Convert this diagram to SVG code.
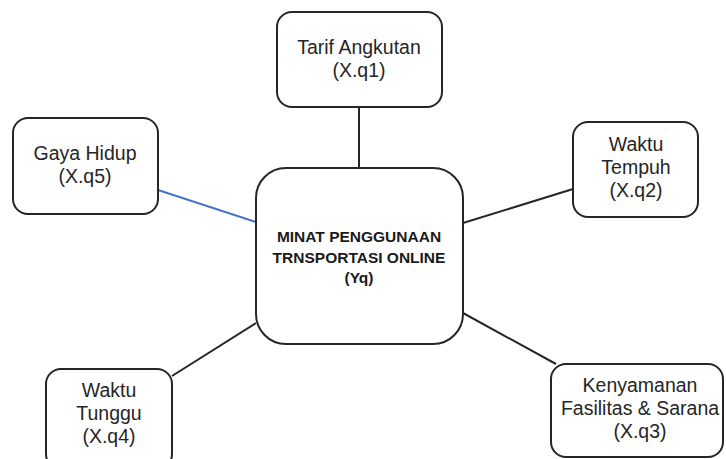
<svg xmlns="http://www.w3.org/2000/svg" width="726" height="459" viewBox="0 0 726 459">
<style>
.box{fill:#fff;stroke:#262626;stroke-width:2}
.lbl{font-family:"Liberation Sans",Arial,sans-serif;font-size:19.5px;fill:#262626;text-anchor:middle}
.main{font-family:"Liberation Sans",Arial,sans-serif;font-size:15.5px;font-weight:bold;fill:#1a1a1a;text-anchor:middle}
.con{stroke:#262626;stroke-width:2;fill:none}
.blue{stroke:#4472C4;stroke-width:2;fill:none}
</style>
<rect width="726" height="459" fill="#fff"/>
<g id="connectors">
<line class="con" x1="359" y1="107" x2="359" y2="168"/>
<line class="blue" x1="158" y1="190" x2="256" y2="222"/>
<line class="con" x1="573" y1="189" x2="463" y2="223"/>
<line class="con" x1="172" y1="376" x2="256" y2="323"/>
<line class="con" x1="463" y1="313" x2="556" y2="364"/>
</g>
<g id="center">
<rect class="box" x="256" y="168" width="207" height="176" rx="30"/>
<text class="main" x="359" y="242">MINAT PENGGUNAAN</text>
<text class="main" x="359" y="263">TRNSPORTASI ONLINE</text>
<text class="main" x="359" y="283">(Yq)</text>
</g>
<g id="tarif">
<rect class="box" x="277" y="12" width="165" height="95" rx="15"/>
<text class="lbl" x="359" y="54">Tarif Angkutan</text>
<text class="lbl" x="359" y="77">(X.q1)</text>
</g>
<g id="gaya">
<rect class="box" x="13" y="118" width="145" height="96" rx="15"/>
<text class="lbl" x="85" y="160">Gaya Hidup</text>
<text class="lbl" x="85" y="183">(X.q5)</text>
</g>
<g id="tempuh">
<rect class="box" x="573" y="122" width="125" height="95" rx="15"/>
<text class="lbl" x="636" y="151">Waktu</text>
<text class="lbl" x="636" y="174">Tempuh</text>
<text class="lbl" x="636" y="197">(X.q2)</text>
</g>
<g id="tunggu">
<rect class="box" x="46" y="369" width="126" height="100" rx="15"/>
<text class="lbl" x="109" y="397">Waktu</text>
<text class="lbl" x="109" y="420">Tunggu</text>
<text class="lbl" x="109" y="443">(X.q4)</text>
</g>
<g id="kenyamanan">
<rect class="box" x="551" y="364" width="172" height="93" rx="15"/>
<text class="lbl" x="640" y="392">Kenyamanan</text>
<text class="lbl" x="640" y="415">Fasilitas &amp; Sarana</text>
<text class="lbl" x="640" y="438">(X.q3)</text>
</g>
</svg>
